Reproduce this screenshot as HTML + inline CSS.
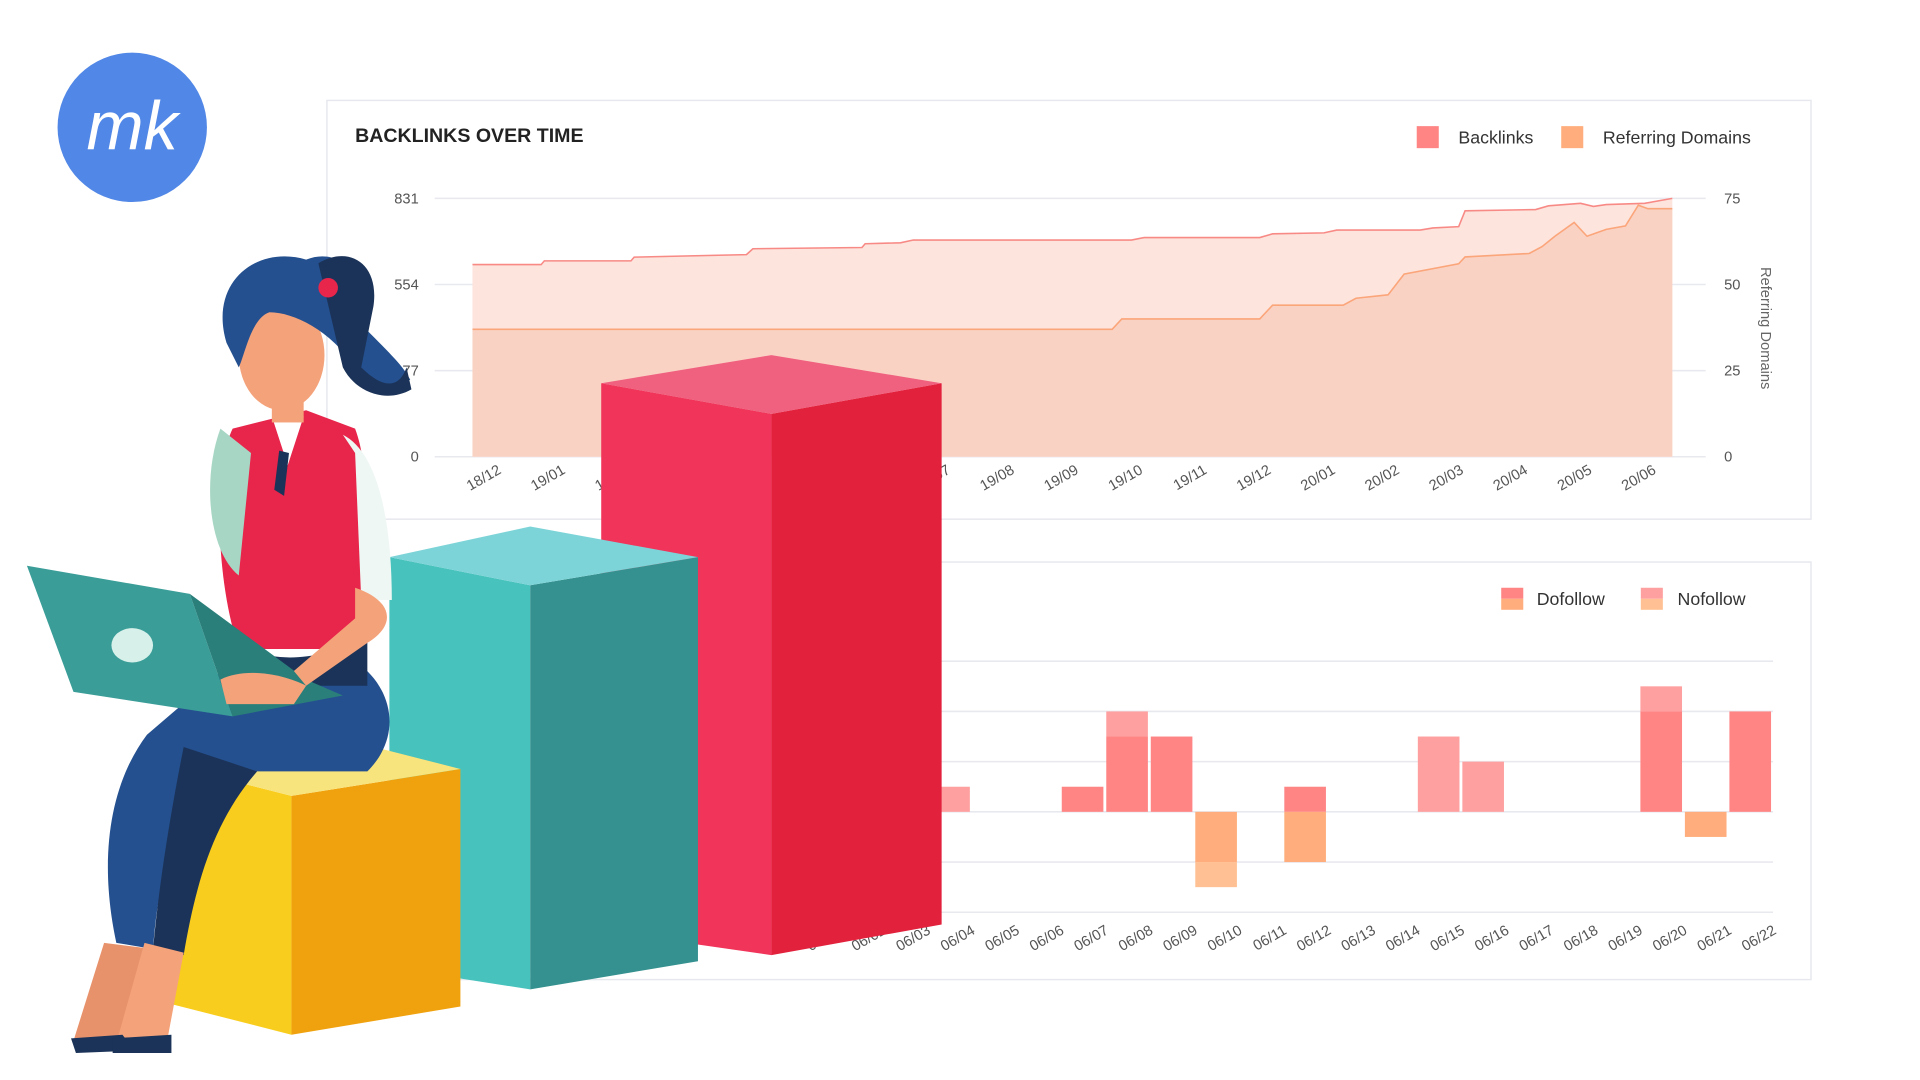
<!DOCTYPE html>
<html><head><meta charset="utf-8"><style>
html,body{margin:0;padding:0;background:#fff;width:1920px;height:1080px;overflow:hidden}
svg{display:block}
text{font-family:"Liberation Sans",sans-serif}
</style></head><body>
<svg id="root" width="1920" height="1080" viewBox="0 0 1568 882" preserveAspectRatio="none" xmlns="http://www.w3.org/2000/svg">
<rect width="1568" height="882" fill="#fff"/>
<!-- top card -->
<g>
<rect x="267" y="82" width="1212" height="342" fill="#fff" stroke="#e6e8ee" stroke-width="1.2"/>
<text x="290" y="116" font-size="16" font-weight="bold" fill="#222">BACKLINKS OVER TIME</text>
<g><rect x="1157" y="103" width="18" height="18" fill="#ff8585"/><text x="1191" y="117" font-size="14.5" fill="#333">Backlinks</text></g>
<g><rect x="1275" y="103" width="18" height="18" fill="#ffad7c"/><text x="1309" y="117" font-size="14.5" fill="#333">Referring Domains</text></g>
<text transform="translate(1438,268) rotate(90)" text-anchor="middle" font-size="12" fill="#666">Referring Domains</text>
<g id="top-chart"></g>
</g>
<!-- bottom card -->
<g>
<rect x="267" y="459" width="1212" height="341" fill="#fff" stroke="#e6e8ee" stroke-width="1.2"/>
<g><rect x="1226" y="480" width="18" height="9" fill="#ff8585"/><rect x="1226" y="489" width="18" height="9" fill="#ffad7c"/><text x="1255" y="494" font-size="14.5" fill="#333">Dofollow</text></g>
<g><rect x="1340" y="480" width="18" height="9" fill="#ffa0a0"/><rect x="1340" y="489" width="18" height="9" fill="#ffc193"/><text x="1370" y="494" font-size="14.5" fill="#333">Nofollow</text></g>
<g id="bottom-chart"></g>
</g>

<!-- logo -->
<g>
<circle cx="108" cy="104" r="61" fill="#5187e6"/>
<text x="108" y="122" text-anchor="middle" font-family="Liberation Serif,serif" font-style="italic" font-size="56" fill="#fff">mk</text>
</g>

<!-- 3D bars illustration -->
<g>
<polygon points="491,313 630,338 630,780 491,760" fill="#f0345a"/>
<polygon points="630,338 769,313 769,755 630,780" fill="#e2213d"/>
<polygon points="491,313 630,290 769,313 630,338" fill="#f0607f"/>
</g>
<g>
<polygon points="318,455 433,478 433,808 318,790" fill="#48c2bd"/>
<polygon points="433,478 570,455 570,785 433,808" fill="#35918f"/>
<polygon points="318,455 433,430 570,455 433,478" fill="#7dd4d8"/>
</g>
<g>
<polygon points="140,625 238,650 238,845 140,820" fill="#f9cd1d"/>
<polygon points="238,650 376,628 376,822 238,845" fill="#f0a20e"/>
<polygon points="140,625 278,603 376,628 238,650" fill="#f8e47c"/>
</g>
<!-- woman -->
<g>
<path d="M120,600 C90,640 80,700 95,770 L125,775 C130,700 150,660 190,630 L300,630 C330,600 320,560 290,540 L190,540 Z" fill="#24508f"/>
<path d="M150,610 C140,660 130,720 125,775 L150,780 C160,720 175,670 210,630 Z" fill="#1b3358"/>
<path d="M85,770 L60,850 L100,858 L125,775 Z" fill="#e8926b"/>
<path d="M118,770 L95,852 L135,858 L150,778 Z" fill="#f4a27a"/>
<path d="M58,848 L100,845 L110,858 L62,860 Z" fill="#1b3358"/>
<path d="M92,848 L140,845 L140,860 L92,860 Z" fill="#1b3358"/>
<path d="M190,350 C175,380 175,470 195,530 L290,530 C300,470 305,390 290,350 L250,335 Z" fill="#e8254a"/>
<path d="M180,350 C165,390 170,450 195,470 L205,370 Z" fill="#a7d6c4"/>
<path d="M280,355 C310,370 320,430 320,490 L295,490 L290,370 Z" fill="#eef7f3"/>
<path d="M222,340 L235,380 L248,340 Z" fill="#fff"/>
<path d="M228,368 L224,400 L232,405 L236,370 Z" fill="#1b3358"/>
<rect x="222" y="300" width="26" height="45" fill="#f4a27a"/>
<ellipse cx="230" cy="290" rx="35" ry="45" fill="#f4a27a"/>
<path d="M185,280 C170,230 210,200 250,212 C280,200 305,230 300,270 C320,290 330,300 335,310 C320,320 300,318 290,300 C270,270 240,255 220,255 C205,260 200,290 195,300 Z" fill="#24508f"/>
<path d="M260,215 C285,200 310,215 305,250 L295,300 C310,315 325,320 332,300 L336,318 C315,330 290,320 280,300 Z" fill="#1b3358"/>
<circle cx="268" cy="235" r="8" fill="#e8254a"/>
<path d="M190,520 C210,540 250,545 300,520 L300,560 L195,560 Z" fill="#1b3358"/>
<polygon points="22,462 155,485 190,585 60,565" fill="#3a9d98"/>
<polygon points="155,485 190,585 280,568 250,555" fill="#2a7f7a"/>
<ellipse cx="108" cy="527" rx="17" ry="14" fill="#d8f0ea"/>
<path d="M180,555 C200,545 230,550 250,560 L240,575 L185,575 Z" fill="#f4a27a"/>
<path d="M290,480 C320,490 325,510 300,525 L250,560 L240,548 L290,505 Z" fill="#f4a27a"/>
</g>

<script>
// ---------- Top chart data ----------
const monthLabels = ["18/12","19/01","19/02","19/03","19/04","19/05","19/06","19/07","19/08","19/09","19/10","19/11","19/12","20/01","20/02","20/03","20/04","20/05","20/06"];
const leftTicks = [0,277,554,831];
const leftTickLabels = ["0","277","554","831"];
const rightTicks = [0,25,50,75];
const backlinksT = [-0.27,0.8,0.85,2.2,2.25,4.0,4.1,5.8,5.85,6.4,6.6,10.0,10.2,12.0,12.2,13.0,13.2,14.5,14.7,15.1,15.2,16.3,16.5,17.0,17.2,17.4,18.0,18.43];
const backlinksV = [618,618,630,630,642,650,669,673,685,688,697,697,705,705,717,720,729,729,736,740,791,795,807,815,805,811,815,831];
const domainsT = [-0.27,9.7,9.85,12.0,12.2,13.3,13.5,14.0,14.25,15.1,15.2,16.2,16.4,16.6,16.9,17.1,17.4,17.7,17.9,18.05,18.43];
const domainsV = [37,37,40,40,44,44,46,47,53,56,58,59,61,64,68,64,66,67,73,72,72];

// ---------- Bottom chart data ----------
const dayLabels = ["06/01","06/02","06/03","06/04","06/05","06/06","06/07","06/08","06/09","06/10","06/11","06/12","06/13","06/14","06/15","06/16","06/17","06/18","06/19","06/20","06/21","06/22"];
const dofollowNew = [0,0,0,0,0,0,1,3,3,0,0,1,0,0,0,0,0,0,0,4,0,4];
const nofollowNew = [0,0,0,1,0,0,0,1,0,0,0,0,0,0,3,2,0,0,0,1,0,0];
const dofollowLost = [0,0,0,0,0,0,0,0,0,-2,0,-2,0,0,0,0,0,0,0,0,-1,0];
const nofollowLost = [0,0,0,0,0,0,0,0,0,-1,0,0,0,0,0,0,0,0,0,0,0,0];
const barGridValues = [6,4,2,0,-2,-4];

const NS = "http://www.w3.org/2000/svg";
function mk(parent, tag, attrs){const e=document.createElementNS(NS,tag);for(const k in attrs)e.setAttribute(k,attrs[k]);parent.appendChild(e);return e;}

// top chart scales
const xM = m => 400 + m*52.4;
const yL = v => 373 - v/831*211;
const yR = v => 373 - v/75*211;
const topG = document.getElementById('top-chart');
leftTicks.forEach((t,i)=>{
  const g = mk(topG,'line',{x1:355,x2:1393,y1:yL(t),y2:yL(t),stroke:'#e8e9ef','stroke-width':1.3});
  
  
  const tx = mk(topG,'text',{x:342,y:yL(t)+4,'text-anchor':'end','font-size':12,fill:'#555'});
  tx.textContent = leftTickLabels[i];
  
  
});
rightTicks.forEach(t=>{
  const tx = mk(topG,'text',{x:1408,y:yR(t)+4,'font-size':12,fill:'#555'});
  tx.textContent = t;
  
  
});
function areaPath(T,V,yf){
  let d='M'+xM(T[0])+','+yf(0);
  T.forEach((t,i)=>{d+=' L'+xM(t)+','+yf(V[i]);});
  d+=' L'+xM(T[T.length-1])+','+yf(0)+' Z';return d;
}
function linePath(T,V,yf){return T.map((t,i)=>(i?'L':'M')+xM(t)+','+yf(V[i])).join(' ');}
const a1 = mk(topG,'path',{d:areaPath(backlinksT,backlinksV,yL),fill:'#fde4dd'});


const a2 = mk(topG,'path',{d:areaPath(domainsT,domainsV,yR),fill:'#f9cfc0','fill-opacity':0.85});


const l1 = mk(topG,'path',{d:linePath(backlinksT,backlinksV,yL),fill:'none',stroke:'#f88a86','stroke-width':1.3});


const l2 = mk(topG,'path',{d:linePath(domainsT,domainsV,yR),fill:'none',stroke:'#fba57a','stroke-width':1.3});


monthLabels.forEach((lb,i)=>{
  const x = xM(i)+10, y = 386;
  const tx = mk(topG,'text',{x:x,y:y,'text-anchor':'end','font-size':12,fill:'#555',transform:`rotate(-30 ${x} ${y})`});
  tx.textContent = lb;
  
  
});

// bottom chart scales
const cx = i => 666 + i*36.35;
const yB = v => 663 - v*20.5;
const bot = document.getElementById('bottom-chart');
barGridValues.forEach(v=>{
  const g = mk(bot,'line',{x1:600,x2:1448,y1:yB(v),y2:yB(v),stroke:'#e8e9ef','stroke-width':1.3});
  
  
});
function bar(i,v0,v1,color,name){
  const r = mk(bot,'rect',{x:cx(i)-17,y:Math.min(yB(v0),yB(v1)),width:34,height:Math.abs(yB(v1)-yB(v0)),fill:color});
  
  
}
dayLabels.forEach((lb,i)=>{
  if(dofollowNew[i]) bar(i,0,dofollowNew[i],'#ff8585','bar-dofollow-new');
  if(nofollowNew[i]) bar(i,dofollowNew[i],dofollowNew[i]+nofollowNew[i],'#ffa0a0','bar-nofollow-new');
  if(dofollowLost[i]) bar(i,0,dofollowLost[i],'#ffad7c','bar-dofollow-lost');
  if(nofollowLost[i]) bar(i,dofollowLost[i],dofollowLost[i]+nofollowLost[i],'#ffc193','bar-nofollow-lost');
  const x = cx(i)+22, y = 762;
  const tx = mk(bot,'text',{x:x,y:y,'text-anchor':'end','font-size':12,fill:'#555',transform:`rotate(-30 ${x} ${y})`});
  tx.textContent = lb;
  
  
});
</script>
</svg>
</body></html>
